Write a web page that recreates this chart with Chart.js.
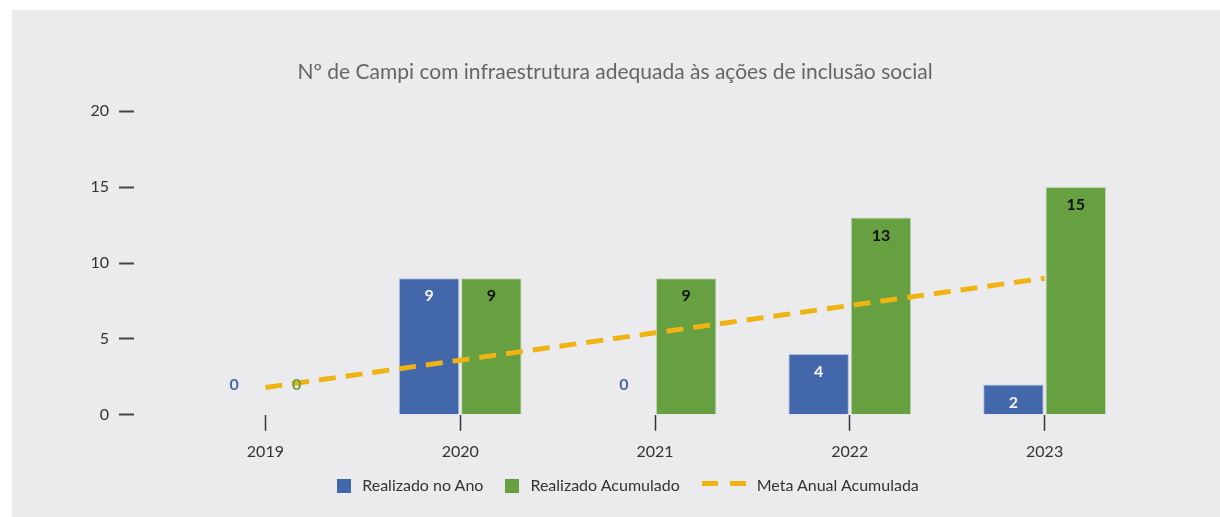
<!DOCTYPE html>
<html>
<head>
<meta charset="utf-8">
<script src="https://cdn.jsdelivr.net/npm/chart.js@4"></script>
<style>
  body { margin: 0; background: #fff; }
  #panel { position: absolute; left: 12px; top: 10px; right: 0; bottom: 0; background: #ebebee; }
  #wrap { position: absolute; left: 0; top: 0; width: 1220px; height: 517px; }
  #legend { position: absolute; left: 18px; width: 1220px; top: 473px; text-align: center;
            font: 16px Lato, "Open Sans", sans-serif; color: #333; white-space: nowrap; }
  #legend span.item { display: inline-block; margin: 0 11px; vertical-align: middle; }
  #legend i { display: inline-block; vertical-align: -2px; margin-right: 11px; }
</style>
</head>
<body>
<div id="panel"></div>
<div id="wrap"><canvas id="campi"></canvas></div>
<div id="legend"></div>
<script>
/*_____________________DATA____________________*/

const anos = ['2019', '2020', '2021', '2022', '2023'];
const realizadoAno = [0, 9, 0, 4, 2];
const realizadoAcum = [0, 9, 9, 13, 15];
const metaAcum = [1.8, 3.6, 5.4, 7.2, 9.0];

const azul = '#4267ab';
const verde = '#66a040';
const amarelo = '#efb412';

/*_____________________LABELS_PLUGIN____________________*/

const barLabels = {
  id: 'barLabels',
  afterDatasetsDraw(chart) {
    const ctx = chart.ctx;
    ctx.save();
    ctx.font = 'bold 16px Lato, "Open Sans", sans-serif';
    ctx.textAlign = 'center';
    ctx.textBaseline = 'middle';
    [0, 1].forEach(function (i) {
      const ds = chart.data.datasets[i];
      chart.getDatasetMeta(i).data.forEach(function (bar, j) {
        const v = ds.data[j];
        if (v > 0) {
          ctx.fillStyle = i == 0 ? '#f4f4f8' : '#111';
          ctx.fillText(v, bar.x, bar.y + 18);
        } else {
          ctx.fillStyle = ds.backgroundColor;
          ctx.fillText(v, bar.x, bar.y - 30);
        }
      });
    });
    ctx.restore();
  }
};

/*_____________________CHART____________________*/

const campi = document.getElementById('campi');
const campi_setup = {
  labels: anos,
  datasets: [
    {
      type: 'bar',
      label: 'Realizado no Ano',
      data: realizadoAno,
      backgroundColor: azul,
      borderColor: 'rgba(140,165,210,0.6)',
      borderWidth: 1,
      order: 2
    },
    {
      type: 'bar',
      label: 'Realizado Acumulado',
      data: realizadoAcum,
      backgroundColor: verde,
      borderColor: 'rgba(160,200,130,0.6)',
      borderWidth: 1,
      order: 2
    },
    {
      type: 'line',
      label: 'Meta Anual Acumulada',
      data: metaAcum,
      borderColor: amarelo,
      borderWidth: 5,
      borderDash: [17, 10],
      pointRadius: 0,
      fill: false,
      order: 1
    }
  ]
};

Chart.defaults.font.family = 'Lato, "Open Sans", sans-serif';

new Chart(campi, {
  type: 'bar',
  data: campi_setup,
  plugins: [barLabels],
  options: {
    responsive: true,
    maintainAspectRatio: false,
    animation: false,
    categoryPercentage: 0.64,
    barPercentage: 0.97,
    layout: { padding: { left: 88, right: 78, top: 0, bottom: 45 } },
    plugins: {
      legend: { display: false },
      tooltip: { enabled: false },
      title: {
        display: true,
        text: 'Nº de Campi com infraestrutura adequada às ações de inclusão social',
        color: '#666',
        font: { size: 21, weight: 'normal' },
        padding: { top: 60, bottom: 26 }
      }
    },
    scales: {
      x: {
        grid: {
          offset: false,
          drawOnChartArea: false,
          drawTicks: true,
          tickLength: 16,
          tickWidth: 1.5,
          tickColor: '#333'
        },
        border: { display: false },
        ticks: { color: '#333', font: { size: 16 }, padding: 11 }
      },
      y: {
        min: 0,
        max: 20,
        afterFit(s) { s.width = 80; },
        grid: {
          drawOnChartArea: false,
          drawTicks: true,
          tickLength: 49,
          tickWidth: 2,
          tickColor: '#444',
          tickBorderDash: [15, 200]
        },
        border: { display: false },
        ticks: { stepSize: 5, color: '#333', font: { size: 16 }, padding: 10 }
      }
    }
  }
});

/*_____________________LEGEND____________________*/

const legend = document.getElementById('legend');
legend.innerHTML =
  '<span class="item"><i style="width:14px;height:14px;background:' + azul + '"></i>Realizado no Ano</span>' +
  '<span class="item"><i style="width:14px;height:14px;background:' + verde + '"></i>Realizado Acumulado</span>' +
  '<span class="item"><i style="width:44px;height:5px;vertical-align:5px;background:linear-gradient(90deg,' +
  amarelo + ' 0 16px, transparent 16px 28px,' + amarelo + ' 28px)"></i>Meta Anual Acumulada</span>';
</script>
</body>
</html>
